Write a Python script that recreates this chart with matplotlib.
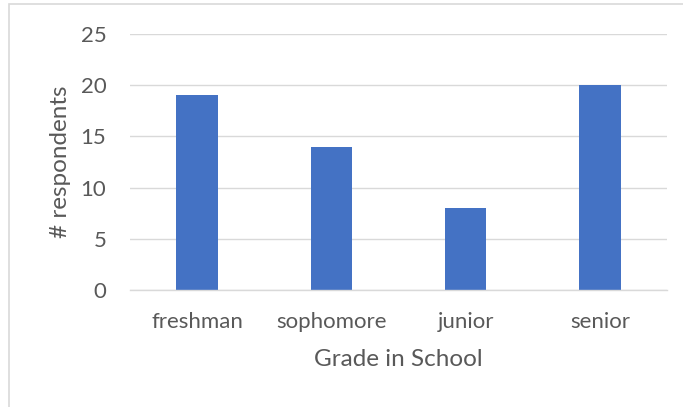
import matplotlib.pyplot as plt
from matplotlib.patches import Rectangle

grades = ["freshman", "sophomore", "junior", "senior"]
respondents = [19, 14, 8, 20]
yticks = [0, 5, 10, 15, 20, 25]

plt.rcParams['font.family'] = ['Lato', 'DejaVu Sans']
texto = '#595959'

fig = plt.figure(figsize=(6.83, 4.07), dpi=100)
ax = fig.add_axes([0.1903, 0.2875, 0.7863, 0.629])

ax.bar(range(len(grades)), respondents, width=0.31, color='#4472C4', zorder=3)
ax.set_xlim(-0.5, len(grades) - 0.5)
ax.set_ylim(0, 25)
ax.set_yticks(yticks)
ax.set_xticks(range(len(grades)))
ax.set_xticklabels(grades)

ax.grid(axis='y', color='#D9D9D9', linewidth=1, zorder=0)
for lado in ('top', 'right', 'left'):
    ax.spines[lado].set_visible(False)
ax.spines['bottom'].set_color('#D9D9D9')
ax.spines['bottom'].set_linewidth(1)
ax.spines['bottom'].set_zorder(4)

ax.tick_params(axis='both', length=0, labelsize=16, colors=texto)
ax.tick_params(axis='y', pad=17)
ax.tick_params(axis='x', pad=16)

ax.set_xlabel("Grade in School", fontsize=17.5, color=texto, labelpad=12)
ax.set_ylabel("# respondents", fontsize=17.5, color=texto, labelpad=7)

# marco del grafico
fig.patches.append(Rectangle((9 / 683, -0.1), 1.2, 1.1 - 4 / 407, transform=fig.transFigure,
                             fill=False, edgecolor='#D9D9D9', linewidth=1.2))

plt.savefig('out.png', dpi=100)
